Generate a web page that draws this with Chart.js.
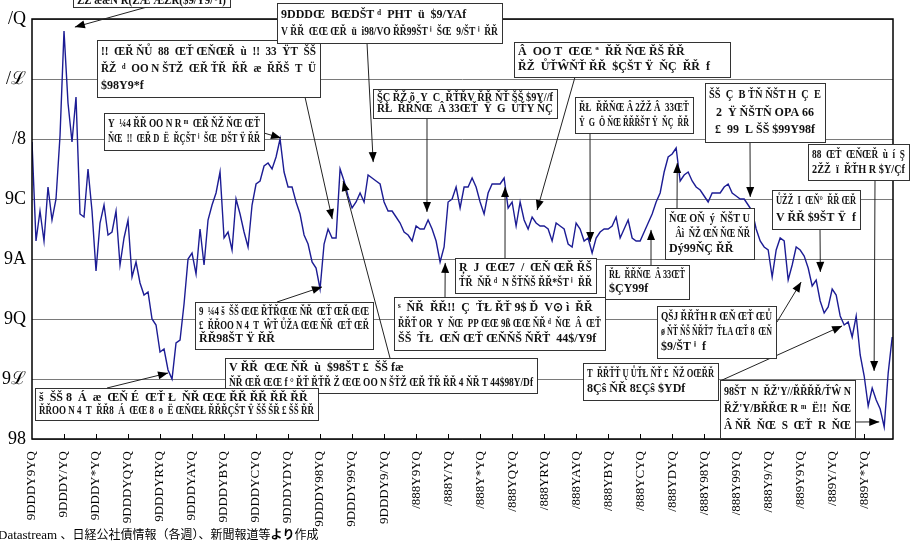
<!DOCTYPE html>
<html>
<head>
<meta charset="utf-8">
<script src="https://cdn.jsdelivr.net/npm/chart.js@4/dist/chart.umd.min.js"></script>
<style>
html,body{margin:0;padding:0;background:#fff;overflow:hidden}
</style>
</head>
<body>
<canvas id="spreadChart" width="920" height="546"></canvas>
<script>
// month tick labels (as they appear in the source, garbled font)
var monthLabels = [
    "9DDDY9YQ","9DDDY/YQ","9DDDY*YQ","9DDDYQYQ","9DDDYRYQ","9DDDYAYQ","9DDDYBYQ","9DDDYCYQ","9DDDYDYQ","9DDDY98YQ","9DDDY99YQ","9DDDY9/YQ",
    "/888Y9YQ","/888Y/YQ","/888Y*YQ","/888YQYQ","/888YRYQ","/888YAYQ","/888YBYQ","/888YCYQ","/888YDYQ","/888Y98YQ","/888Y99YQ","/888Y9/YQ",
    "/889Y9YQ","/889Y/YQ","/889Y*YQ"
];
// y tick labels, bottom to top (10..24)
var yTickText = ["98","9\u2112","9Q","9A","9C","/8","/\u2112","/Q"];
// series, 8 readings per month
var pointsPerMonth = 8;
var spread = [
    19.9,16.6,17.6,16.6,18.4,17.3,18.0,20.1,23.6,21.2,
    19.9,21.4,17.5,17.4,19.0,17.6,15.6,17.2,17.8,16.8,
    16.9,17.6,15.8,16.7,17.3,15.4,15.9,15.2,14.8,14.9,
    14.0,13.8,12.9,13.0,12.3,12.0,13.2,13.3,14.5,16.0,
    16.2,15.5,17.0,15.8,17.3,17.8,18.2,18.9,16.7,16.9,
    16.3,18.0,17.5,16.9,16.4,17.8,18.5,18.6,19.1,19.2,
    19.0,19.4,20.0,18.9,18.4,18.4,17.9,17.5,16.8,16.5,
    15.9,15.7,15.0,16.5,17.0,16.7,16.7,19.0,18.6,18.1,
    17.7,17.9,18.2,17.9,18.8,18.7,18.6,18.5,17.9,17.6,
    17.6,17.4,17.2,16.9,16.8,16.6,17.1,17.0,17.0,17.3,
    17.0,16.6,15.9,16.4,17.9,18.0,18.4,17.7,18.4,18.4,
    18.7,18.4,17.9,17.5,18.2,18.5,18.5,18.5,18.7,17.7,
    17.9,17.1,17.9,17.3,17.0,17.4,17.2,17.1,17.1,17.0,
    16.6,17.2,17.1,17.0,16.5,16.4,17.2,17.0,16.6,16.7,
    16.2,16.7,16.9,17.0,17.0,17.1,17.4,16.7,17.0,17.3,
    16.7,16.6,16.6,16.9,17.2,17.5,17.9,18.2,18.9,19.4,
    19.5,19.7,18.6,18.8,18.9,18.6,18.4,18.3,18.1,17.9,
    18.2,18.2,18.2,18.4,18.5,18.2,18.1,18.0,18.0,17.8,
    17.6,17.0,16.6,16.4,16.3,15.4,16.3,16.7,16.6,15.3,
    15.8,16.4,16.3,16.1,15.7,15.1,15.3,14.6,14.2,14.4,
    15.0,14.8,14.1,13.8,13.9,13.4,14.1,12.8,12.1,11.1,
    11.7,11.3,11.0,10.4,12.2,13.4
];

// callout boxes: box in px, text lines, line start in px, tip in data units (month, value)
var notes = [
    {box:[73,-12,157,19], lines:["\u017d\u017d \u00e6\u00e6\u0147 \u0158(\u017d\u00c6 \u00c6\u017d\u0158($9/Y9/*f)"], from:[147,7], tip:[1.34,23.73]},
    {box:[97,40,223,57], lines:["!!  \u0152\u0158 \u0147\u016e  88  \u0152\u0164 \u0152\u0147\u0152\u0158  \u00f9  !!  33  \u0178T  \u0160\u0160","\u0158\u017d  \u1d48  OO N \u0160T\u017d  \u0152\u0158 \u0164\u0158  \u0158\u0158  \u00e6  \u0158\u0158\u0160  T  \u00dc","$98Y9*f"], from:[305,97], tip:[9.38,17.33]},
    {box:[277,3,225,40], lines:["9DDD\u0152  B\u0152D\u0160T \u1d48  PHT  \u00fc  $9/YAf","V \u0158\u0158  \u0152\u0152 \u0152\u0158  \u00fc  i98/VO \u0158\u015899\u0160T \u2071  \u0160\u0152  9/\u0160T \u2071  \u0158\u0158"], from:[367,43], tip:[10.66,19.23]},
    {box:[104,113,160,37], lines:["Y  \u00bc4 \u0158\u0158 OO N R \u1d50  \u0152\u0158 \u0147\u017d \u0147\u0152 \u0152\u0164","\u0147\u0152  !!  \u0152\u0158 D  \u00cb  \u0158\u00c7\u0160T \u2071  \u0160\u0152  D\u0160T \u0178 \u0158\u0158"], from:[264,133], tip:[7.78,20.03]},
    {box:[514,42,216,35], lines:["\u00c2  OO T  \u0152\u0152 \u00aa  \u0158\u0158 \u0147\u0152 \u0158\u0160 \u0158\u0158","\u0158\u017d  \u016e\u0164\u0174\u0147\u0164 \u0158\u0158  $\u00c7\u0160T \u0178  \u0147\u00c7  \u0158\u0158  f"], from:[575,77], tip:[15.78,17.63]},
    {box:[373,89,184,29], lines:["\u0160\u00c7 \u0158\u017d \u00f5  Y  C  \u0158\u0164\u0158V \u0158\u0158 \u0147\u0164 \u0160\u0160 $9Y//f","\u0158\u0141  \u0158\u0158\u0147\u0152  \u00c2 33\u0152\u0164  \u0178  G  \u016e\u0164Y \u0147\u00c7"], from:[427,118], tip:[12.34,17.57]},
    {box:[575,97,118,36], lines:["\u0158\u0141  \u0158\u0158\u0147\u0152 \u00c2 2\u017d\u017d \u00c2  33\u0152\u0164","\u0178  G  \u00d6 \u0147\u0152 \u0158\u0158\u0158\u0160T \u0178  \u0147\u00c7  \u0158\u0158"], from:[590,133], tip:[17.44,16.57]},
    {box:[705,83,120,59], lines:["\u0160\u0160  \u00c7  B \u0164\u0147 \u0147\u0160T H  \u00c7  E","2  \u0178 \u0147\u0160T\u0147 OPA 66","\u00a3  99  L \u0160\u0160 $99Y98f"], from:[750,142], tip:[22.44,18.07], center:true},
    {box:[808,144,101,36], lines:["88  \u0152\u0164  \u0152\u0147\u0152\u0158  \u00f9  \u00ed  \u015e","2\u017d\u017d  \u00ef  \u0158\u0164H R $Y/\u00c7f"], from:[875,180], tip:[26.31,12.27]},
    {box:[772,190,88,39], lines:["\u016e\u017d\u017d  I  \u0152\u0147\u00b0  \u0158\u0158 \u0152\u0158","V \u0158\u0158 $9\u0160T \u0178  f"], from:[820,229], tip:[24.63,15.57]},
    {box:[665,208,89,51], lines:["\u0147\u0152 O\u0147  \u00fd  \u0147\u0160T U","   \u00c2\u00ec  \u0147\u017d \u0152\u0147 \u0147\u0152 \u0147\u0158","D\u00fd99\u0147\u00c7 \u0158\u0158"], from:[677,208], tip:[20.16,19.2]},
    {box:[605,265,84,34], lines:["\u0158\u0141  \u0158\u0158\u0147\u0152  \u00c2 33\u0152\u0164","$\u00c7Y99f"], from:[651,265], tip:[19.34,16.97]},
    {box:[455,258,141,35], lines:["\u0156  J  \u0152\u01527  /  \u0152\u0147 \u0152\u0158 \u0158\u0160","\u0164\u0158  \u0147\u0158 \u1d48  N \u0160\u0164\u0147\u0160 \u0158\u0158*\u0160T \u2071  \u0158\u0158"], from:[505,258], tip:[14.78,18.4]},
    {box:[394,297,211,53], lines:["\u02e2  \u0147\u0158  \u0158\u0158!!  \u00c7  \u0164\u0141 \u0158\u0164 9$ \u010e  V\u2299 \u00ec  \u0158\u0158","\u0158\u0158\u0164 OR  Y  \u0147\u0152  PP \u0152\u0152 9\u00df \u0152\u0152 \u0147\u0158 \u1d48  \u0147\u0152  \u00c2  \u0152\u0164","\u0160\u0160  \u0164\u0141  \u0152\u0147 \u0152\u0164 \u0152\u0147\u0147\u0160 \u0147\u0158\u0164  44$/Y9f"], from:[445,297], tip:[12.91,15.87]},
    {box:[195,302,178,47], lines:["9  \u00bc4 \u0161  \u0160\u0160 \u0152\u0152 \u0158\u0164\u0158\u0152\u0152 \u0147\u0158  \u0152\u0164 \u0152\u0158 \u0152\u0152","\u00a3  \u0158\u0158OO N 4  T  \u0174\u0164 \u016e\u017dA \u0152\u0152 \u0147\u0158  \u0152\u0164 \u0152\u0158","\u0158\u015898\u0160T \u0178 \u0158\u0158"], from:[277,302], tip:[9.06,15.07]},
    {box:[225,358,312,35], lines:["V \u0158\u0158  \u0152\u0152 \u0147\u0158  \u00f9  $98\u0160T \u00a3  \u0160\u0160 f\u00e6","\u0147\u0158 \u0152\u0158 \u0152\u0152 f \u00b0 \u0158\u0164 \u0158\u0164\u0158 \u017d \u0152\u0152 OO N \u0160\u0164\u017d \u0152\u0158 \u0164\u0158 \u0158\u0158 4 \u0147\u0158 T 44$98Y/Df"], from:[390,358], tip:[9.72,18.6]},
    {box:[35,388,283,32], lines:["\u0161  \u0160\u0160 8  \u00c1  \u00e6  \u0152\u0147 \u00c9  \u0152\u0164 \u0141  \u0147\u0158 \u0152\u0152 \u0158\u0158 \u0158\u0158 \u0158\u0158 \u0158\u0158","\u0158\u0158OO N 4  T  \u0158\u01588  \u00c1  \u0152\u0152 8  o  \u00cb \u0152\u0147\u0152\u0141 \u0158\u0158\u0158\u00c7\u0160T \u0178 \u0160\u0160 \u0160\u0158 \u00a3 \u0160\u0160 \u0158\u0158"], from:[107,388], tip:[4.25,12.2]},
    {box:[657,306,119,52], lines:["Q\u0160J \u0158\u0158\u0164H R \u0152\u0147 \u0152\u0164 \u0152\u016e","\u00f8 \u0147\u0164 \u0147\u0160 \u0147\u0158\u01647  \u0164\u0141A \u0152\u0164 8  \u0152\u0147","$9/\u0160T \u2071  f"], from:[777,322], tip:[24.03,15.23]},
    {box:[583,363,135,37], lines:["T  \u0158\u0158\u0164\u0164 \u0172 \u016e\u0164\u0141 \u0147\u0164 \u00a3  \u0147\u017d O\u0152\u0158\u0158","8\u00c7\u015d \u0147\u0158 8\u00a3\u00c7\u015d $YDf"], from:[720,381], tip:[25.31,13.77]},
    {box:[720,380,135,58], lines:["98\u0160T  N  \u0158\u017d'Y//\u0158\u0158\u0158\u0158/\u0164\u0174 N","\u0158\u017d'Y/B\u0158\u0158\u0152 R \u1d50  \u00cb!!  \u0147\u0152","\u00c2 \u0147\u0158  \u0147\u0152  S  \u0152\u0164  R  \u0147\u0152"], from:[855,422], tip:[26.47,10.57]}
];

var footParts = [
    ["Datastream ", "13px 'Liberation Serif'"],
    ["\u3001\u65e5\u7d4c\u516c\u793e\u50b5\u60c5\u5831\uff08\u5404\u9031\uff09\u3001\u65b0\u805e\u5831\u9053\u7b49", "12px 'Noto Sans CJK JP'"],
    ["\u3088\u308a", "bold 12px 'Noto Sans CJK JP'"],
    ["\u4f5c\u6210", "12px 'Noto Sans CJK JP'"]
];

function drawArrow(ctx, x0, y0, x1, y1){
    ctx.beginPath();
    ctx.moveTo(x0, y0);
    ctx.lineTo(x1, y1);
    ctx.stroke();
    var ang = Math.atan2(y1 - y0, x1 - x0);
    var len = 10, half = 4;
    ctx.beginPath();
    ctx.moveTo(x1, y1);
    ctx.lineTo(x1 - len*Math.cos(ang) + half*Math.sin(ang), y1 - len*Math.sin(ang) - half*Math.cos(ang));
    ctx.lineTo(x1 - len*Math.cos(ang) - half*Math.sin(ang), y1 - len*Math.sin(ang) + half*Math.cos(ang));
    ctx.closePath();
    ctx.fill();
}

// draw one text line, squeezed sideways if it is wider than the box
function fitText(ctx, t, x, y, maxW, center){
    var w = ctx.measureText(t).width;
    var s = w > maxW ? maxW / w : 1;
    ctx.save();
    ctx.translate(center ? x - w*s/2 : x, y);
    ctx.scale(s, 1);
    ctx.textAlign = "left";
    ctx.fillText(t, 0, 0);
    ctx.restore();
}

//frame, inner tick marks, callouts and source line
var decorations = {
    id: "decorations",
    afterDatasetsDraw: function(chart){
        var ctx = chart.ctx;
        var a = chart.chartArea;
        var xs = chart.scales.x, ys = chart.scales.y;
        ctx.save();
        ctx.strokeStyle = "#000";
        ctx.lineWidth = 1.5;
        ctx.strokeRect(a.left, a.top, a.right - a.left, a.bottom - a.top);
        ctx.lineWidth = 1;
        for(var i = 1; i < monthLabels.length; i++){
            var px = Math.round(xs.getPixelForValue(i)) + 0.5;
            ctx.beginPath();
            ctx.moveTo(px, a.bottom);
            ctx.lineTo(px, a.bottom - 5);
            ctx.stroke();
        }
        // connector lines first, boxes on top
        ctx.fillStyle = "#000";
        ctx.strokeStyle = "#222";
        notes.forEach(function(n){
            drawArrow(ctx, n.from[0], n.from[1], xs.getPixelForValue(n.tip[0]), ys.getPixelForValue(n.tip[1]));
        });
        notes.forEach(function(n){
            var b = n.box;
            ctx.fillStyle = "#fff";
            ctx.fillRect(b[0], b[1], b[2], b[3]);
            ctx.strokeStyle = "#333";
            ctx.lineWidth = 1;
            ctx.strokeRect(b[0] + 0.5, b[1] + 0.5, b[2], b[3]);
            ctx.fillStyle = "#111";
            ctx.font = "bold 12px 'Liberation Serif'";
            ctx.textBaseline = "middle";
            var step = (b[3] - 6) / n.lines.length;
            n.lines.forEach(function(t, j){
                var ty = b[1] + 3 + step*(j + 0.5);
                if(b[1] < 0) ty = b[1] + b[3] - 6;
                if(n.center){
                    fitText(ctx, t, b[0] + b[2]/2, ty, b[2] - 8, true);
                } else {
                    fitText(ctx, t, b[0] + 4, ty, b[2] - 8, false);
                }
            });
        });
        ctx.restore();
    },
    afterDraw: function(chart){
        var ctx = chart.ctx;
        ctx.save();
        ctx.fillStyle = "#000";
        ctx.textBaseline = "alphabetic";
        ctx.textAlign = "left";
        var x = -2;
        footParts.forEach(function(p){
            ctx.font = p[1];
            ctx.fillText(p[0], x, 539);
            x += ctx.measureText(p[0]).width;
        });
        ctx.restore();
    }
};

var lineData = [];
for(var i = 0; i < spread.length; i++){
    lineData.push({x: i / pointsPerMonth, y: spread[i]});
}

var currentChart = new Chart(document.getElementById("spreadChart"), {
    type: "line",
    data: {
        datasets: [{
            data: lineData,
            borderColor: "#1c1c94",
            borderWidth: 1.4,
            pointRadius: 0,
            tension: 0,
            fill: false
        }]
    },
    options: {
        responsive: false,
        animation: false,
        devicePixelRatio: 1,
        layout: {padding: {top: 19, right: 27, left: 0, bottom: 0}},
        plugins: {legend: {display: false}, tooltip: {enabled: false}},
        scales: {
            x: {
                type: "linear",
                min: 0,
                max: 26.9,
                afterBuildTicks: function(axis){
                    axis.ticks = monthLabels.map(function(l, i){ return {value: i}; });
                },
                afterFit: function(axis){ axis.height = 107; },
                grid: {display: false},
                border: {display: false},
                ticks: {
                    autoSkip: false,
                    maxRotation: 90,
                    minRotation: 90,
                    padding: 4,
                    color: "#000",
                    font: {family: "'Liberation Serif'", size: 13},
                    callback: function(v, i){ return monthLabels[i]; }
                }
            },
            y: {
                min: 10,
                max: 24,
                afterFit: function(axis){ axis.width = 32; },
                grid: {color: "#7a7a7a", lineWidth: 1, drawTicks: false},
                border: {display: false},
                ticks: {
                    stepSize: 2,
                    padding: 6,
                    color: "#000",
                    font: {family: "'Liberation Serif'", size: 18},
                    callback: function(v){ return yTickText[(v - 10) / 2]; }
                }
            }
        }
    },
    plugins: [decorations]
});
</script>
</body>
</html>
